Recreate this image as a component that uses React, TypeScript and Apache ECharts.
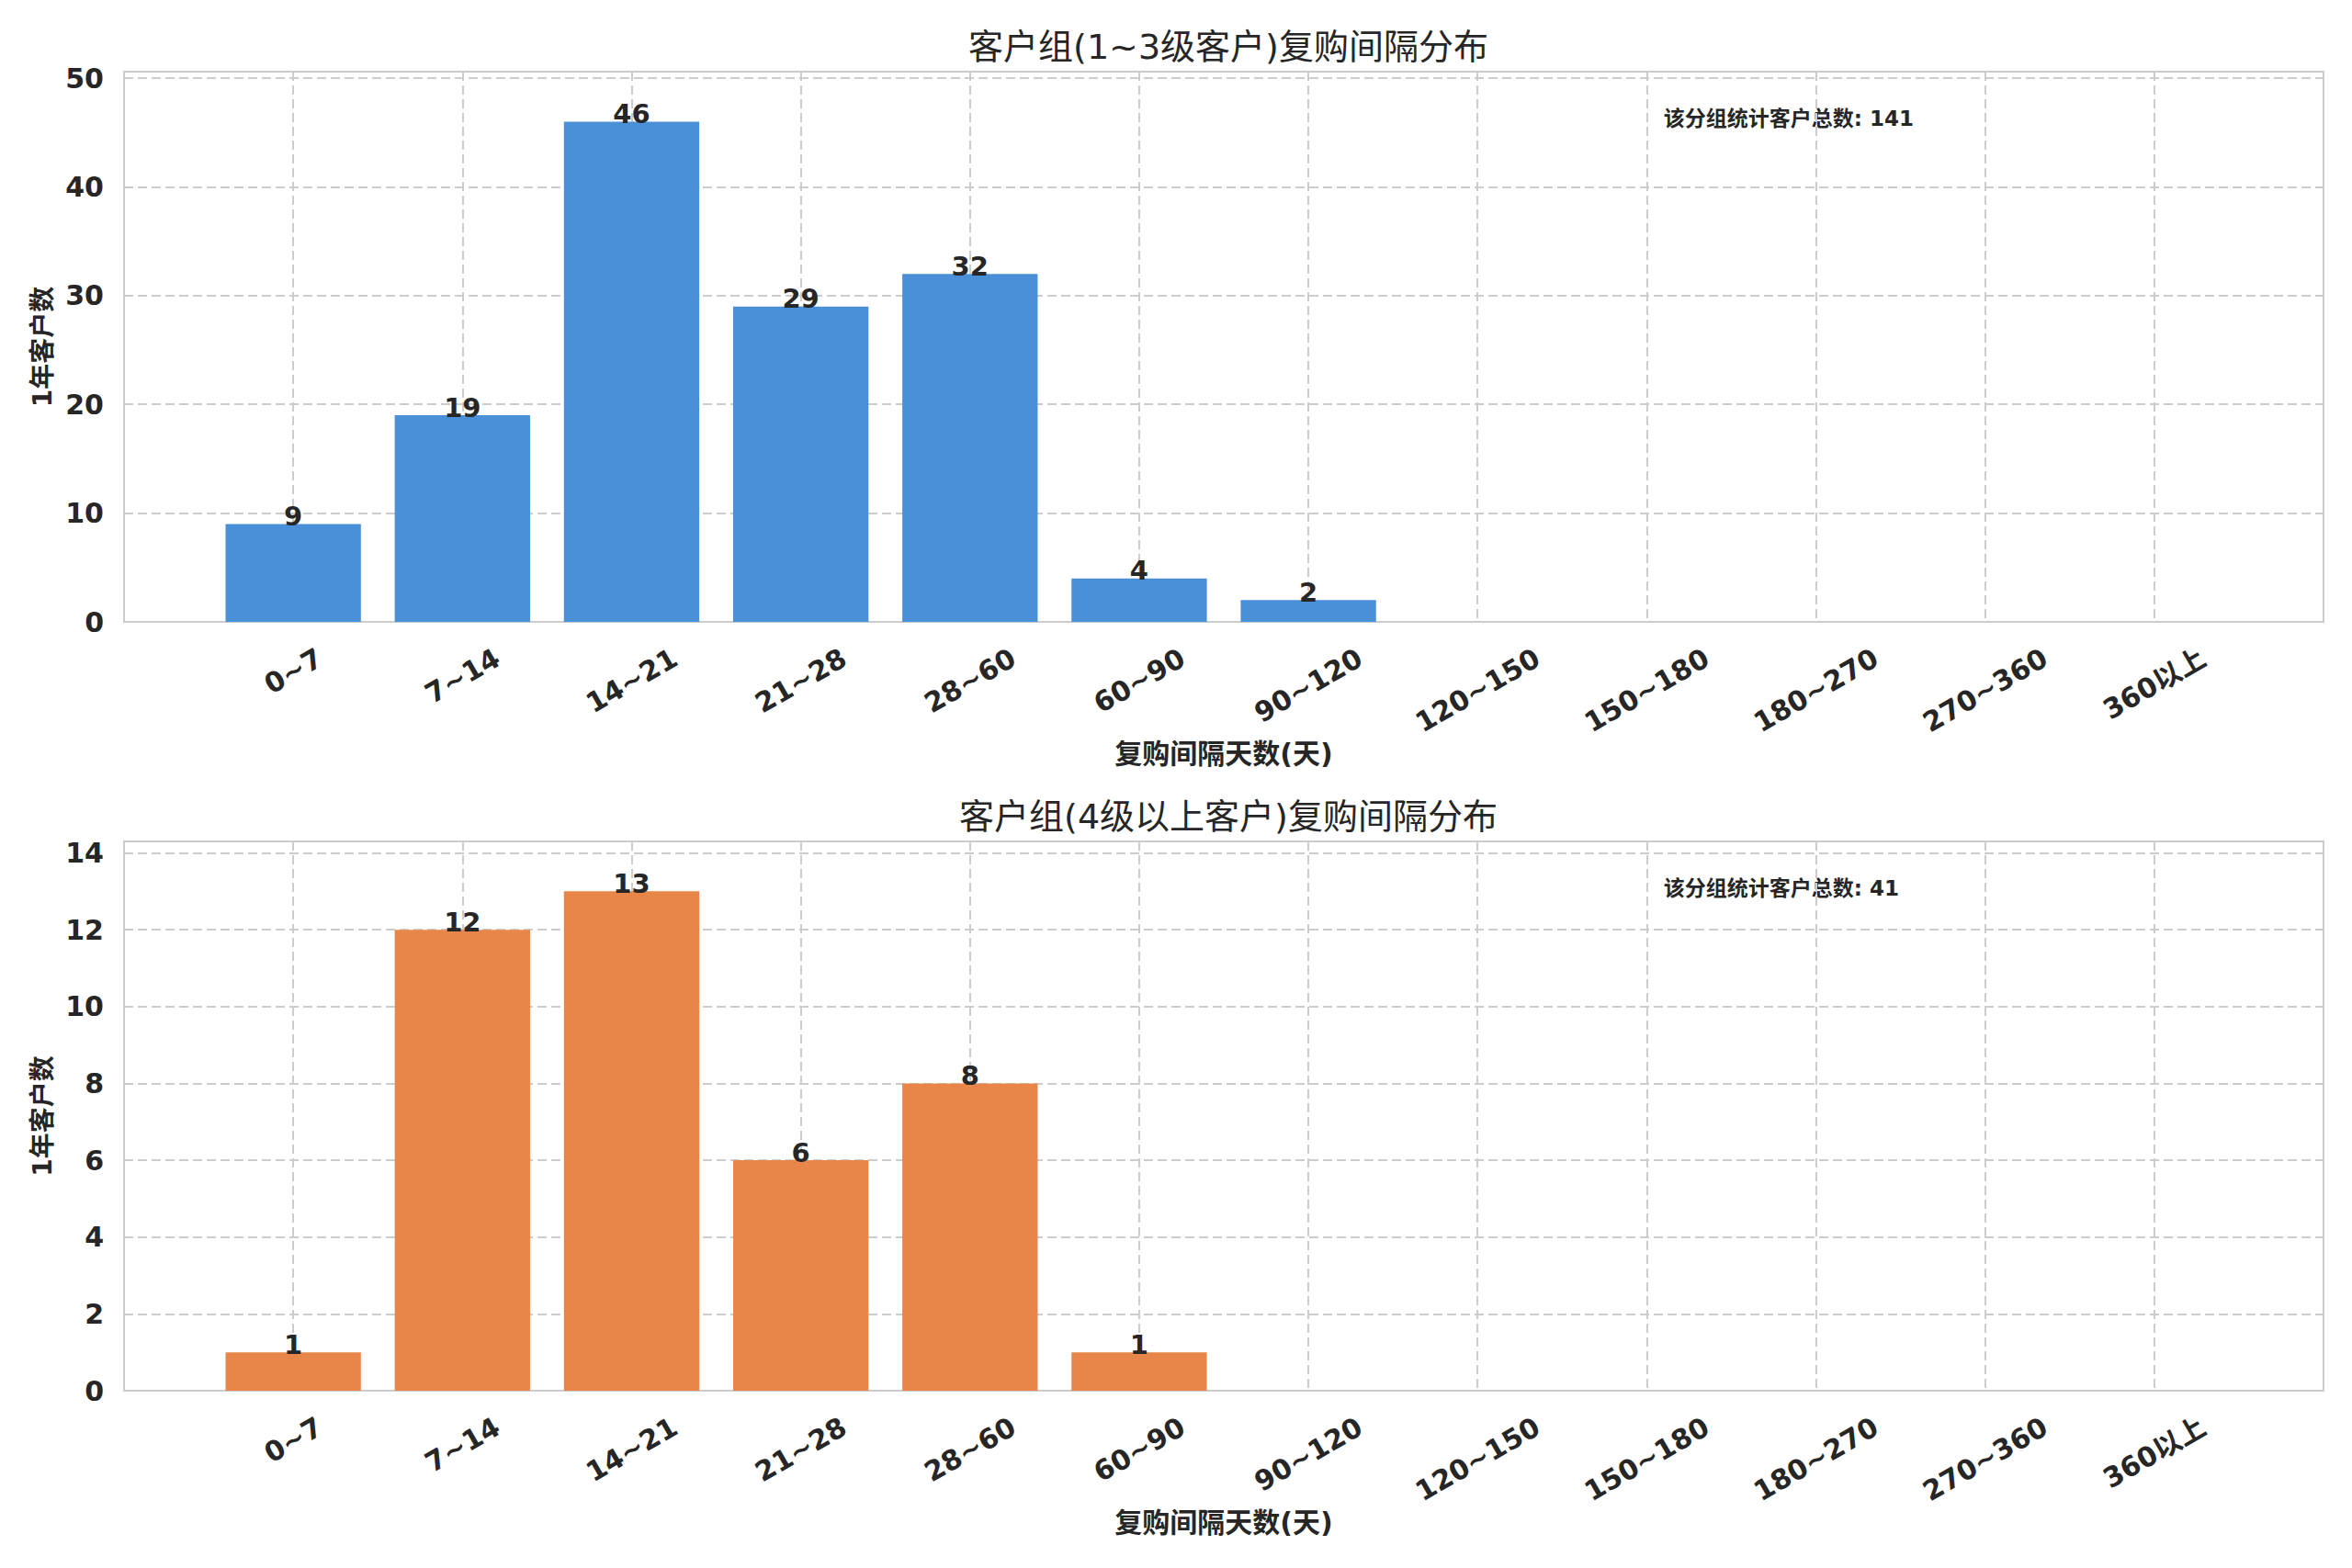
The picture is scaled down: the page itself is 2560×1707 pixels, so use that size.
import React, { useEffect, useRef } from "react";
import * as echarts from "echarts";

const categories = ["0~7", "7~14", "14~21", "21~28", "28~60", "60~90", "90~120", "120~150", "150~180", "180~270", "270~360", "360以上"];
const groupAValues = [9, 19, 46, 29, 32, 4, 2, 0, 0, 0, 0, 0];
const groupBValues = [1, 12, 13, 6, 8, 1, 0, 0, 0, 0, 0, 0];
const titleA = "客户组(1~3级客户)复购间隔分布";
const titleB = "客户组(4级以上客户)复购间隔分布";
const xName = "复购间隔天数(天)";
const yName = "1年客户数";
const totalLabel = "该分组统计客户总数";

const FONT = "'DejaVu Sans', 'Noto Sans CJK SC', sans-serif";
const TEXT = "#262626";
const GRIDC = "#cccccc";

export default function App() {
  const ref = useRef<HTMLDivElement>(null);
  useEffect(() => {
    if (!ref.current) return;
    const chart = echarts.init(ref.current, null, { renderer: "svg" });

    const tickFont = `bold 30px ${FONT}`;
    const cv = document.createElement("canvas").getContext("2d")!;
    cv.font = tickFont;
    const labelWidths = categories.map((c) => cv.measureText(c).width);
    const ang = Math.PI / 6;
    const lineH = 34;
    const pad = 22;

    const left = 135;
    const width = 2394;
    const grids = [
      { left, top: 78, width, height: 599 },
      { left, top: 916, width, height: 598 },
    ];
    const maxes = [Math.max(...groupAValues) * 1.1, Math.max(...groupBValues) * 1.1];
    const intervals = [10, 2];
    const datas = [groupAValues, groupBValues];
    const colors = ["#4A90D9", "#E8864A"];
    const titles = [titleA, titleB];

    const option: any = {
      animation: false,
      backgroundColor: "#ffffff",
      textStyle: { fontFamily: FONT },
      title: titles.map((t, i) => ({
        text: t,
        left: left + width / 2,
        textAlign: "center",
        top: i === 0 ? 27 : 865,
        textStyle: { fontSize: 38, fontWeight: "normal", color: TEXT, fontFamily: FONT },
      })),
      grid: grids.map((g) => ({
        ...g,
        show: true,
        borderColor: GRIDC,
        borderWidth: 2,
        backgroundColor: "#ffffff",
        containLabel: false,
      })),
      xAxis: [0, 1].map((i) => ({
        type: "value",
        gridIndex: i,
        min: -1,
        max: 12,
        interval: 1,
        name: xName,
        nameLocation: "middle",
        nameGap: 128,
        nameTextStyle: { fontSize: 30, fontWeight: "bold", color: TEXT, fontFamily: FONT },
        axisLine: { show: false },
        axisTick: { show: false },
        axisLabel: { show: false },
        splitLine: { show: true, lineStyle: { color: GRIDC, width: 2, type: [10, 5] } },
      })),
      yAxis: [0, 1].map((i) => ({
        type: "value",
        gridIndex: i,
        min: 0,
        max: maxes[i],
        interval: intervals[i],
        name: yName,
        nameLocation: "middle",
        nameGap: 74,
        nameRotate: 90,
        nameTextStyle: { fontSize: 28, fontWeight: "bold", color: TEXT, fontFamily: FONT },
        axisLine: { show: false },
        axisTick: { show: false },
        splitLine: { show: true, lineStyle: { color: GRIDC, width: 2, type: [10, 5] } },
        axisLabel: {
          margin: 22,
          fontSize: 30,
          fontWeight: "bold",
          color: TEXT,
          fontFamily: FONT,
          formatter: (v: number) => (Math.abs(v / intervals[i] - Math.round(v / intervals[i])) < 1e-6 ? String(v) : ""),
        },
      })),
      series: [
        ...[0, 1].map((i) => ({
          type: "bar",
          xAxisIndex: i,
          yAxisIndex: i,
          barWidth: "80%",
          data: datas[i].map((v, k) => [k, v]),
          itemStyle: { color: colors[i] },
          label: {
            show: true,
            position: "top",
            distance: -6,
            fontSize: 29,
            fontWeight: "bold",
            color: TEXT,
            fontFamily: FONT,
            formatter: (p: any) => (p.value[1] > 0 ? String(p.value[1]) : ""),
          },
        })),
        ...[0, 1].map((i) => ({
          type: "custom",
          xAxisIndex: i,
          yAxisIndex: i,
          clip: false,
          silent: true,
          data: categories.map((c, k) => [k, 0]),
          renderItem: (params: any, api: any) => {
            const k = params.dataIndex;
            const p = api.coord([api.value(0), 0]);
            const L = labelWidths[k];
            const bboxH = L * Math.sin(ang) + lineH * Math.cos(ang);
            return {
              type: "text",
              x: p[0],
              y: p[1] + pad + bboxH / 2,
              rotation: ang,
              style: {
                text: categories[k],
                font: tickFont,
                fill: TEXT,
                align: "center",
                verticalAlign: "middle",
              },
            };
          },
        })),
      ],
      graphic: [0, 1].map((i) => ({
        type: "text",
        left: left + width * 0.7,
        top: grids[i].top + grids[i].height * 0.05 + 10,
        style: {
          text: `${totalLabel}: ${datas[i].reduce((a, b) => a + b, 0)}`,
          font: `bold 23px ${FONT}`,
          fill: TEXT,
        },
      })),
    };
    chart.setOption(option);
    return () => chart.dispose();
  }, []);
  return <div ref={ref} style={{ position: "absolute", left: 0, top: 0, width: 2560, height: 1707 }} />;
}
